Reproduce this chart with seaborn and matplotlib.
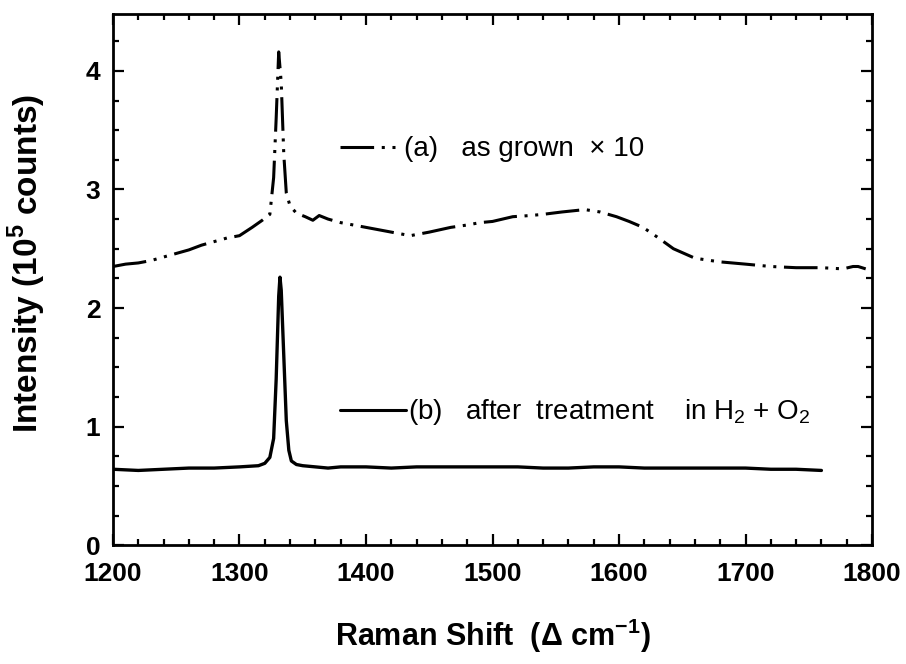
import numpy as np
import pandas as pd
import matplotlib
matplotlib.use("Agg")
import matplotlib.pyplot as plt
from matplotlib.lines import Line2D
from matplotlib.ticker import MultipleLocator
import seaborn as sns

# (a) as grown, x10
shift_a = [1200, 1210, 1220, 1230, 1240, 1250, 1260, 1270, 1280, 1290, 1300,
           1310, 1318, 1324, 1327, 1329, 1331, 1333, 1335, 1337, 1340, 1345,
           1352, 1358, 1363, 1370, 1380, 1390, 1400, 1410, 1420, 1435, 1450,
           1467, 1480, 1490, 1500, 1516, 1530, 1540, 1555, 1573, 1585, 1598,
           1608, 1619, 1630, 1643, 1660, 1679, 1700, 1720, 1740, 1760, 1777,
           1785, 1789, 1795]
int_a = [2.35, 2.37, 2.38, 2.40, 2.43, 2.46, 2.49, 2.53, 2.56, 2.59, 2.61,
         2.68, 2.74, 2.79, 3.10, 3.60, 4.16, 3.90, 3.30, 2.97, 2.86, 2.80,
         2.77, 2.74, 2.78, 2.75, 2.72, 2.70, 2.68, 2.66, 2.64, 2.61, 2.64,
         2.68, 2.70, 2.72, 2.73, 2.77, 2.78, 2.79, 2.81, 2.83, 2.81, 2.77,
         2.73, 2.68, 2.60, 2.50, 2.42, 2.39, 2.37, 2.35, 2.34, 2.34, 2.33,
         2.35, 2.35, 2.33]

# (b) after treatment in H2 + O2
shift_b = [1200, 1220, 1240, 1260, 1280, 1300, 1315, 1320, 1324, 1327, 1329,
           1331, 1332, 1333, 1335, 1337, 1339, 1341, 1345, 1350, 1360, 1370,
           1380, 1400, 1420, 1440, 1460, 1480, 1500, 1520, 1540, 1560, 1580,
           1600, 1620, 1640, 1660, 1680, 1700, 1720, 1740, 1760]
int_b = [0.64, 0.63, 0.64, 0.65, 0.65, 0.66, 0.67, 0.69, 0.74, 0.90, 1.40,
         2.10, 2.26, 2.15, 1.60, 1.05, 0.80, 0.71, 0.68, 0.67, 0.66, 0.65,
         0.66, 0.66, 0.65, 0.66, 0.66, 0.66, 0.66, 0.66, 0.65, 0.65, 0.66,
         0.66, 0.65, 0.65, 0.65, 0.65, 0.65, 0.64, 0.64, 0.63]

label_a = "(a)   as grown  \u00d7 10"
label_b = "(b)   after  treatment    in H$_2$ + O$_2$"

df_a = pd.DataFrame({"shift": shift_a, "intensity": int_a})
df_b = pd.DataFrame({"shift": shift_b, "intensity": int_b})

sns.set_style("ticks")
plt.rcParams["font.family"] = ["Liberation Sans", "DejaVu Sans"]
plt.rcParams["mathtext.fontset"] = "custom"
plt.rcParams["mathtext.rm"] = "Liberation Sans"
plt.rcParams["mathtext.bf"] = "Liberation Sans:bold"
plt.rcParams["text.color"] = "black"
plt.rcParams["axes.labelcolor"] = "black"

fig = plt.figure(figsize=(9.06, 6.64), dpi=100)
ax = fig.add_axes([0.1247, 0.179, 0.8378, 0.800])

dash_a = (11, 2.5, 1, 2.5, 1, 2.5)
sns.lineplot(data=df_a, x="shift", y="intensity", ax=ax, color="black",
             linewidth=2.2, estimator=None, sort=False)
sns.lineplot(data=df_b, x="shift", y="intensity", ax=ax, color="black",
             linewidth=2.4, estimator=None, sort=False)
ax.lines[0].set_dashes(dash_a)

ax.set_xlim(1200, 1800)
ax.set_ylim(0, 4.48)
ax.xaxis.set_major_locator(MultipleLocator(100))
ax.xaxis.set_minor_locator(MultipleLocator(20))
ax.yaxis.set_major_locator(MultipleLocator(1))
ax.yaxis.set_minor_locator(MultipleLocator(0.25))
ax.tick_params(which="both", direction="in", top=True, right=True,
               width=1.6, colors="black", labelcolor="black")
ax.tick_params(which="major", length=8, labelsize=19)
ax.tick_params(axis="x", which="major", pad=12)
ax.tick_params(axis="y", which="major", pad=9)
ax.tick_params(which="minor", length=4.5)
for lab in ax.get_xticklabels() + ax.get_yticklabels():
    lab.set_fontweight("bold")
for sp in ax.spines.values():
    sp.set_linewidth(2.0)
    sp.set_color("black")

ax.set_xlabel("Raman Shift  (\u0394 cm$^{\\mathbf{-1}}$)", fontsize=22,
              fontweight="bold", color="black")
ax.set_ylabel("Intensity (10$^{\\mathbf{5}}$ counts)", fontsize=24,
              fontweight="bold", color="black")
ax.xaxis.set_label_coords(0.5, -0.135)
ax.yaxis.set_label_coords(-0.085, 0.53)

h_a = Line2D([], [], color="black", linewidth=2.2, dashes=dash_a)
h_b = Line2D([], [], color="black", linewidth=2.2)
leg_a = ax.legend([h_a], [label_a], loc="center left",
                  bbox_to_anchor=(0.285, 0.745), frameon=False, fontsize=20,
                  handlelength=2.0, handletextpad=0.3, borderaxespad=0)
ax.add_artist(leg_a)
leg_b = ax.legend([h_b], [label_b], loc="center left",
                  bbox_to_anchor=(0.285, 0.25), frameon=False, fontsize=20,
                  handlelength=2.35, handletextpad=0.1, borderaxespad=0)
for leg in (leg_a, leg_b):
    for t in leg.get_texts():
        t.set_color("black")

fig.savefig("out.png", dpi=100)
